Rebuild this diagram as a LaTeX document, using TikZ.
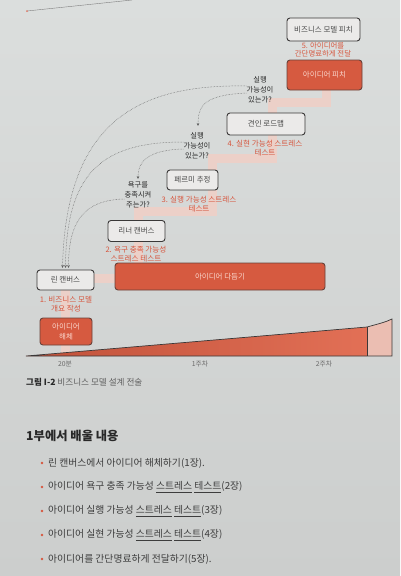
\documentclass[tikz,border=0pt]{standalone}
\usepackage{fontspec}
\setmainfont{Noto Sans CJK KR}
\usetikzlibrary{arrows.meta}
\definecolor{bgtop}{RGB}{219,222,221}
\definecolor{bgbot}{RGB}{204,206,205}
\definecolor{redfill}{RGB}{214,90,64}
\definecolor{redlight}{RGB}{226,112,86}
\definecolor{redtxt}{RGB}{214,86,62}
\definecolor{band}{RGB}{236,208,200}
\definecolor{boxline}{RGB}{58,56,56}
\definecolor{boxfill}{RGB}{235,234,233}
\definecolor{ink}{RGB}{40,40,40}
\definecolor{softwhite}{RGB}{250,214,204}
\definecolor{pale}{RGB}{235,190,178}
\begin{document}
\begin{tikzpicture}[x=1pt,y=-1pt,
  graybox/.style={draw=boxline, fill=boxfill, line width=0.9pt, rounded corners=3pt,
    font=\fontsize{7.5}{8}\selectfont, text=ink!85, inner sep=0pt},
  redbox/.style={draw=boxline!70!redfill, fill=redfill, line width=0.9pt, rounded corners=3pt,
    font=\fontsize{7.5}{9.5}\selectfont, text=softwhite, inner sep=0pt, align=center},
  redlabel/.style={text=redtxt, font=\fontsize{7.6}{9.2}\selectfont, align=center, inner sep=0pt},
  question/.style={text=ink, font=\fontsize{7.3}{10}\selectfont, align=center, inner sep=0pt},
  dotarrow/.style={densely dotted, draw=ink!75, line width=0.5pt, -{Stealth[length=3pt,width=2.6pt]}},
  bandline/.style={draw=band, line width=9pt},
  tick/.style={text=ink!70, font=\fontsize{6.8}{7}\selectfont, inner sep=0pt},
  bullettext/.style={anchor=west, text=ink!90, font=\fontsize{9.8}{11}\selectfont, inner sep=0pt},
  bulletdot/.style={circle, fill=redtxt, inner sep=0pt, minimum size=2.6pt}
]
% background
\shade[top color=bgtop, bottom color=bgbot] (0,0) rectangle (400,576);
\useasboundingbox (0,0) rectangle (400,576);
% page artifact line
\draw[ink!60, line width=0.4pt] (27,11) -- (132,0);
\fill[redtxt!80] (27,11) circle (1pt);

% staircase band
\draw[bandline] (326,80) -- (326,102) -- (272,102) -- (272,158) -- (212,158) -- (212,211)
  -- (138,211) -- (138,270);
\draw[bandline] (65,278) -- (220,278);
\draw[bandline] (65,278) -- (65,356);

% timeline
\shade[left color=redfill!90!black, right color=redlight] (26,356) -- (367,327) -- (367,356) -- cycle;
\fill[pale] (367,327) .. controls (378,324) and (386,322) .. (392,319) -- (392,356) -- (367,356) -- cycle;
\draw[boxline, line width=0.7pt] (26,356) -- (367,327) .. controls (378,324) and (386,322) .. (392,319)
  -- (392,356) -- cycle;
\draw[boxline, line width=0.7pt] (367,327) -- (367,356);
\node[tick] (t20) at (65,364) {20분};
\node[tick] (t1) at (200,364) {1주차};
\node[tick] (t2) at (324,364) {2주차};

% boxes
\node[graybox, minimum width=73pt, minimum height=23pt] (bmp) at (323.5,29.5) {비즈니스 모델 피치};
\node[redlabel, font=\fontsize{7.4}{8.6}\selectfont] (l5) at (323,49.8) {5. 아이디어를\\간단명료하게 전달};
\node[redbox, minimum width=75pt, minimum height=30pt] (pitch) at (324.5,75) {아이디어 피치};

\node[graybox, minimum width=78pt, minimum height=22pt] (road) at (266,124) {견인 로드맵};
\node[redlabel] (l4) at (265,148.5) {4. 실현 가능성 스트레스\\테스트};

\node[graybox, minimum width=51pt, minimum height=20pt] (fermi) at (192.5,180) {페르미 추정};
\node[redlabel] (l3) at (199,204) {3. 실행 가능성 스트레스\\테스트};

\node[graybox, minimum width=57pt, minimum height=21pt] (lean2) at (136.5,231) {리너 캔버스};
\node[redlabel] (l2) at (136,254) {2. 욕구 충족 가능성\\스트레스 테스트};

\node[graybox, minimum width=57pt, minimum height=20pt] (lean) at (65.5,280) {린 캔버스};
\node[redlabel] (l1) at (66,304.5) {1. 비즈니스 모델\\개요 작성};
\node[redbox, minimum width=52pt, minimum height=27pt] (decomp) at (66,331.5) {아이디어\\해체};

\node[redbox, minimum width=210pt, minimum height=27pt] (refine) at (220,276.5) {아이디어 다듬기};

% questions
\node[question] (q1) at (260,90) {실행\\가능성이\\있는가?};
\node[question] (q2) at (197,146) {실행\\가능성이\\있는가?};
\node[question] (q3) at (138,195) {욕구를\\충족시켜\\주는가?};

% dotted arrows
\coordinate (a1) at (62.5,268);
\coordinate (a2) at (65.5,268);
\coordinate (a3) at (68.5,268);
\draw[dotarrow] (q1.west |- 0,86) .. controls (140,84) and (66,120) .. (a1);
\draw[dotarrow] (q1.west |- 0,93) .. controls (205,95) and (198,105) .. (198,126);
\draw[dotarrow] (q2.west |- 0,142) .. controls (105,142) and (66,170) .. (a2);
\draw[dotarrow] (q2.west |- 0,149) .. controls (150,150) and (138,160) .. (138,179);
\draw[dotarrow] (q3.west |- 0,199) .. controls (85,200) and (68.5,220) .. (a3);

% caption
\node[anchor=west, inner sep=0pt, font=\fontsize{8.6}{10}\selectfont, text=ink!75] (cap) at (26,382)
  {\textbf{\color{ink}그림 I-2} 비즈니스 모델 설계 전술};

% heading
\node[anchor=west, inner sep=0pt, font=\fontsize{12.3}{14}\selectfont\bfseries, text=ink] (head) at (26,436)
  {1부에서 배울 내용};

% bullets
\node[bulletdot] (d1) at (42,463) {};
\node[bullettext] (b1) at (48,463) {린 캔버스에서 아이디어 해체하기(1장).};
\node[bulletdot] (d2) at (42,487) {};
\node[bullettext] (b2) at (48,487) {아이디어 욕구 충족 가능성 \underline{스트레스} \underline{테스트}(2장)};
\node[bulletdot] (d3) at (42,511) {};
\node[bullettext] (b3) at (48,511) {아이디어 실행 가능성 \underline{스트레스} \underline{테스트}(3장)};
\node[bulletdot] (d4) at (42,535) {};
\node[bullettext] (b4) at (48,535) {아이디어 실현 가능성 \underline{스트레스} \underline{테스트}(4장)};
\node[bulletdot] (d5) at (42,559) {};
\node[bullettext] (b5) at (48,559) {아이디어를 간단명료하게 전달하기(5장).};
\end{tikzpicture}
\end{document}
